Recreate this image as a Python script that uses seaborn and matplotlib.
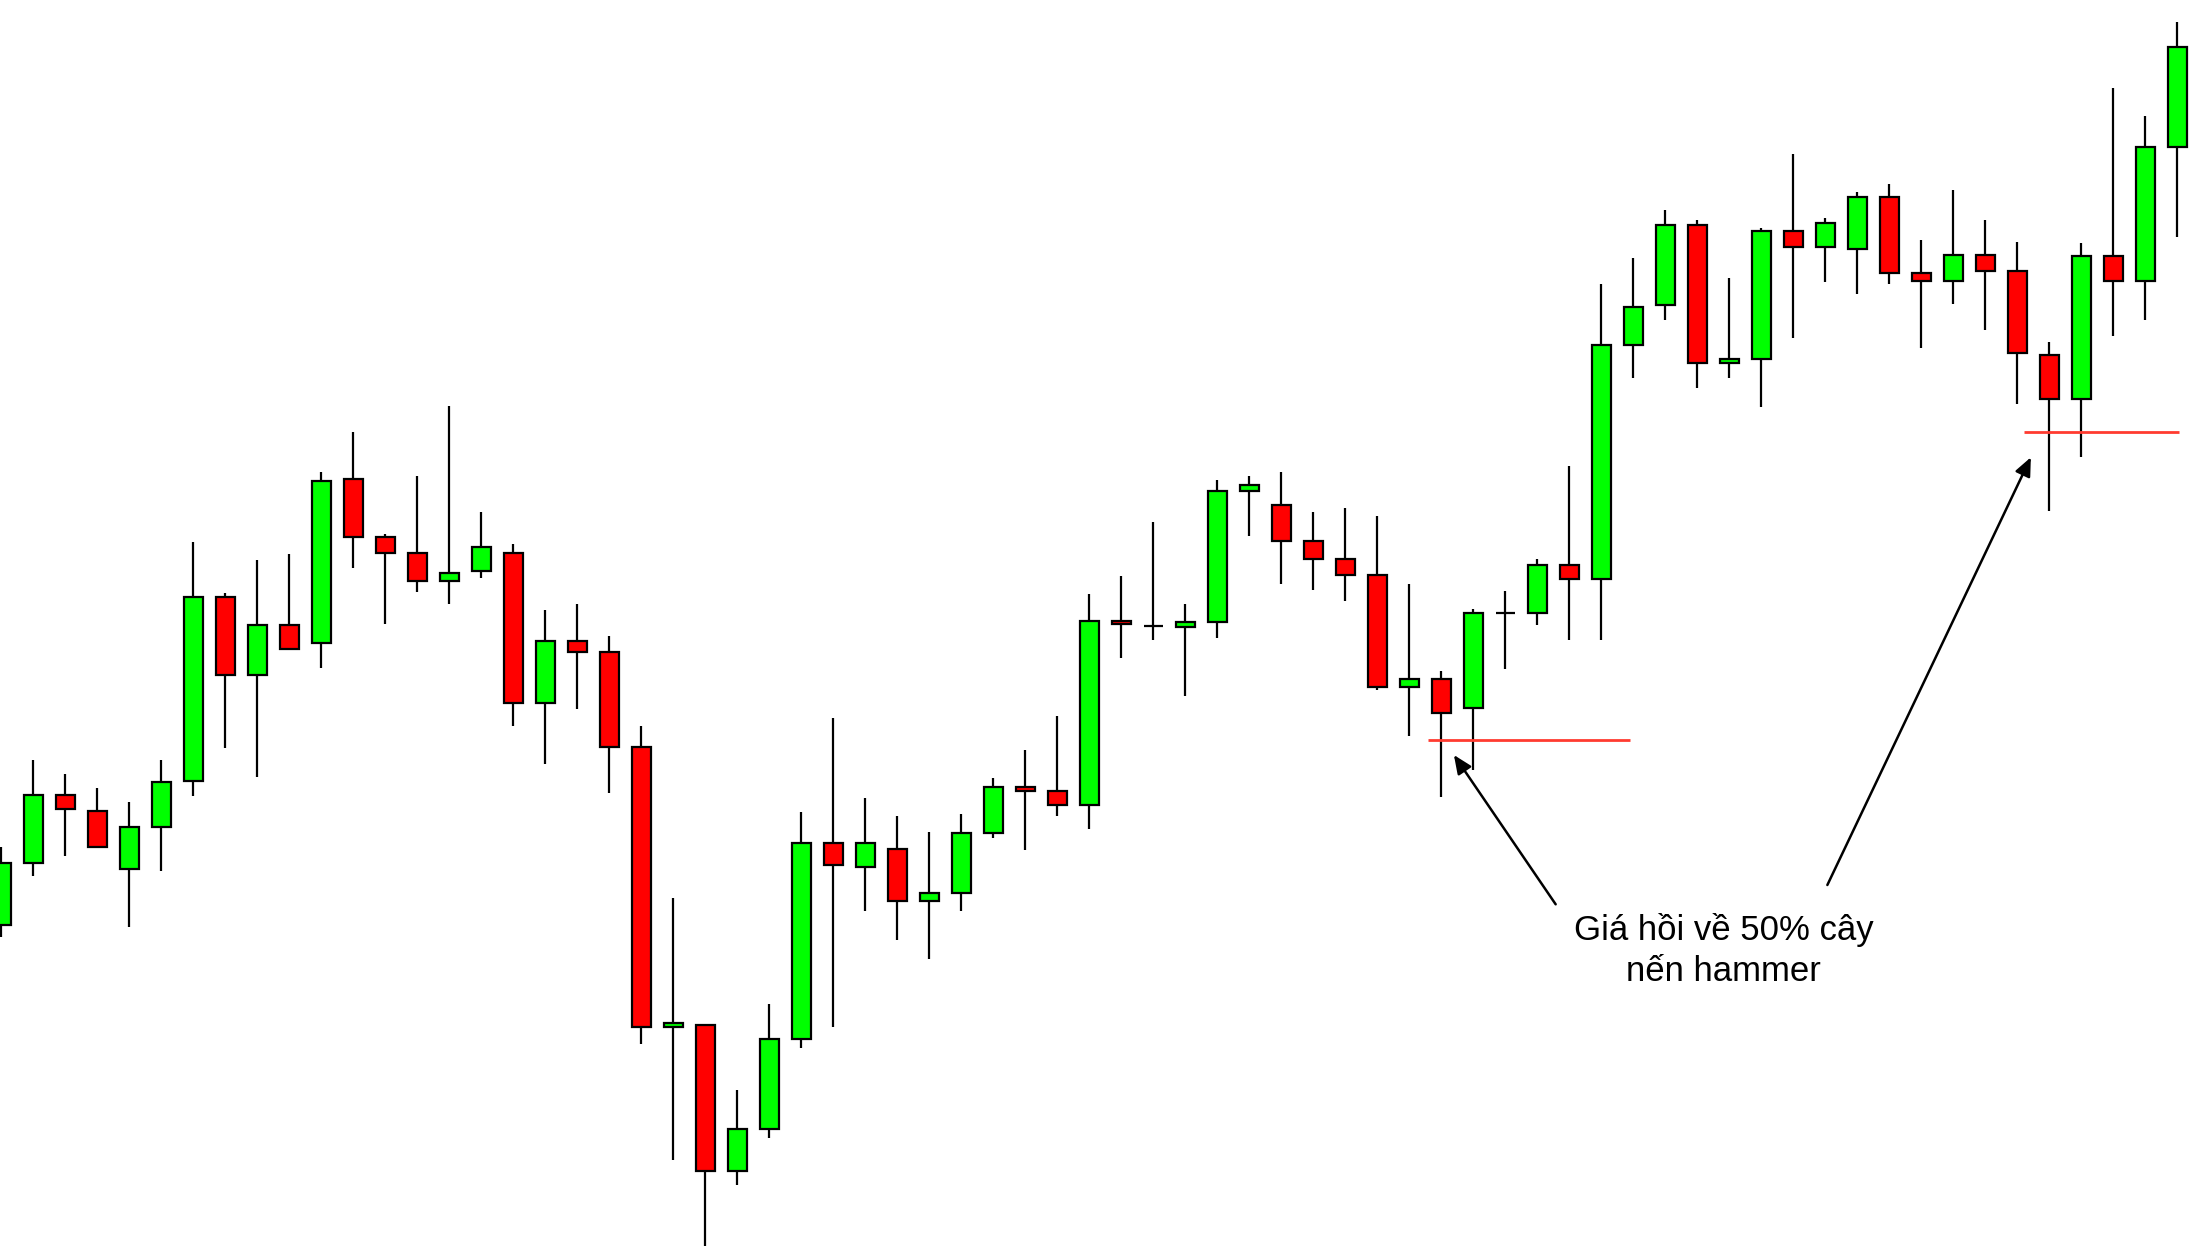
import numpy as np
import pandas as pd
import matplotlib
matplotlib.use('Agg')
import matplotlib.pyplot as plt
import seaborn as sns

# OHLC (arbitrary price units)
opens = [335, 397.3, 465.2, 449.5, 391.5, 433.3, 478.9, 663.4, 585, 635.2,
         617.4, 781.1, 723, 707.3, 679.1, 689.1, 707.3, 556.8, 619.2, 607.6,
         513, 233.3, 235, 89.3, 131.1, 221.1, 417.2, 392.9, 411.4, 359.2,
         367.3, 427.1, 473.5, 469.5, 455, 639, 634.1, 633.2, 637.7, 769.4,
         755.1, 719, 701.5, 685.5, 573.4, 581, 551.6, 647, 647, 695.3,
         681, 914.9, 955, 1035.4, 897.2, 901.1, 1029.3, 1013.2, 1011.1, 1063.2,
         987.2, 979, 1005.4, 989, 905, 861.5, 1003.6, 979, 1113.2]
closes = [397.3, 465.2, 451.1, 413.4, 433.3, 477.7, 663.4, 585, 635.2, 611.1,
          779, 722.6, 706.9, 679.1, 687, 713.1, 556.8, 619, 607.6, 513,
          233.3, 237.3, 89.3, 131.1, 221.1, 417.2, 395.2, 417.2, 359.2, 367.3,
          427.1, 473.5, 468.9, 455, 639.3, 636, 634.1, 637.7, 769.4, 775.2,
          719, 701.5, 685, 573, 581, 547.1, 647, 647, 695.3, 681,
          914.9, 953.3, 1035.4, 896.8, 901.5, 1029.3, 1013.2, 1037.2, 1063.2, 987.2,
          979, 1005.4, 988.6, 907.2, 861.5, 1003.6, 979, 1113.2, 1213.2]
highs = [413, 499.6, 486, 471.9, 458.2, 499.6, 718.1, 667.5, 699.8, 706.1,
         788.1, 827.9, 726, 784, 854, 748, 716, 650, 655.8, 623.9,
         533.9, 362.1, 235, 170, 255.9, 448, 542, 462, 444, 427.7,
         445.7, 482.2, 510.1, 543.8, 666, 683.7, 738.1, 655.6, 779.7, 783.7,
         788.1, 748, 752, 744, 676.1, 589.5, 651.5, 669.4, 701.5, 794,
         976.1, 1002, 1050, 1039.7, 982.2, 1032.2, 1106.1, 1042.2, 1067.9, 1076.1,
         1020, 1070, 1040, 1017.9, 917.9, 1017.5, 1172.2, 1144, 1237.9]
lows = [323, 384.4, 404.3, 412, 332.6, 388.6, 464.4, 512.5, 483.1, 610,
        592.1, 692.4, 636.4, 668.3, 656.3, 682.4, 534.5, 496.3, 550.7, 466.6,
        216.4, 100.3, 14.5, 74.8, 122.4, 212.4, 232.7, 348.8, 320.3, 300.6,
        348.8, 422.5, 410.3, 444.5, 430.6, 602.4, 620.3, 564.5, 622.5, 724.3,
        676.5, 670.3, 658.7, 570.3, 524.3, 462.7, 490.4, 590.8, 634.6, 620.3,
        620.3, 882.3, 940.4, 872.5, 882.5, 852.6, 922.5, 978.2, 966.5, 976.5,
        912.5, 956.5, 930.4, 856.5, 748.6, 802.9, 924.3, 940.4, 1022.9]

# 50% levels of the two hammer candles
level_prices = [520, 828.5]
level_start = [44.58, 63.21]
level_end = [50.89, 68.05]

label_lines = ['Giá hồi về 50% cây', 'nến hammer']

df = pd.DataFrame({'open': opens, 'close': closes, 'high': highs, 'low': lows})
df['x'] = np.arange(len(df))
df['color'] = np.where(df['close'] >= df['open'], '#00FF00', '#FF0000')

sns.set_theme(style='white')
plt.rcParams['font.family'] = ['Liberation Sans', 'DejaVu Sans']

fig = plt.figure(figsize=(21.96, 12.6), dpi=100)
ax = fig.add_axes([0, 0, 1, 1])

ax.vlines(df['x'], df['low'], df['high'], color='black', lw=1.6, zorder=1)
ax.bar(df['x'], df['close'] - df['open'], bottom=df['open'], width=0.58,
       color=df['color'], edgecolor='black', linewidth=1.6, zorder=2)

for p, x0, x1 in zip(level_prices, level_start, level_end):
    ax.hlines(p, x0, x1, color='#FF3B30', lw=2.0, zorder=3)

arrow = dict(arrowstyle='-|>,head_length=0.8,head_width=0.35', color='black',
             lw=1.8, mutation_scale=14, shrinkA=0, shrinkB=0)
ax.annotate('', xy=(45.39, 505), xytext=(48.57, 355.7), arrowprops=arrow)
ax.annotate('', xy=(63.42, 802.7), xytext=(57.06, 375), arrowprops=arrow)

ax.text(53.82, 320, label_lines[0], ha='center', va='baseline',
        fontsize=25, color='black')
ax.text(53.82, 279.3, label_lines[1], ha='center', va='baseline',
        fontsize=25, color='black')

ax.set_xlim(-0.044, 68.58)
ax.set_ylim(0, 1260)
ax.axis('off')

fig.savefig('out.png', dpi=100, facecolor='white')
